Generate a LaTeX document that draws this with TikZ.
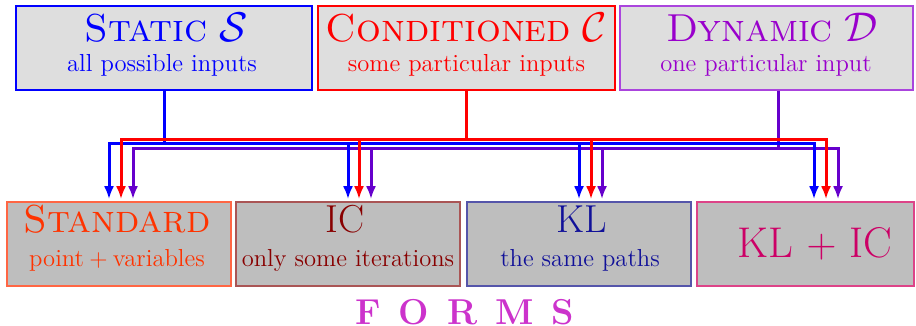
\documentclass[tikz,border=0pt]{standalone}
\usetikzlibrary{arrows.meta}
\definecolor{staticC}{HTML}{0000FF}
\definecolor{condC}{HTML}{FF0000}
\definecolor{dynC}{HTML}{9900CC}
\definecolor{dynB}{HTML}{AA44DD}
\definecolor{dynW}{HTML}{6600CC}
\definecolor{stdC}{HTML}{FF3300}
\definecolor{stdB}{HTML}{FF6644}
\definecolor{icC}{HTML}{880000}
\definecolor{icB}{HTML}{AA5555}
\definecolor{klC}{HTML}{111199}
\definecolor{klB}{HTML}{5555AA}
\definecolor{kicC}{HTML}{CC0066}
\definecolor{kicB}{HTML}{DD4488}
\definecolor{topfill}{HTML}{DEDEDE}
\definecolor{botfill}{HTML}{BEBEBE}
\definecolor{formsC}{HTML}{CC33CC}
\tikzset{
  topbox/.style={rectangle, draw, line width=0.8pt, fill=topfill, inner sep=0pt,
    minimum height=42pt},
  botbox/.style={rectangle, draw, line width=0.8pt, fill=botfill, inner sep=0pt,
    minimum height=42pt, minimum width=112pt},
  title/.style={anchor=base, inner sep=0pt, font=\fontsize{19.5}{23}\selectfont},
  sub/.style={anchor=base, inner sep=0pt, font=\fontsize{12.3}{15}\selectfont},
  wire/.style={line width=1.5pt, shorten >=1pt},
  tip/.style={-{Latex[length=6.5pt,width=5pt]}},
  tips/.style={{Latex[length=6.5pt,width=5pt]}-{Latex[length=6.5pt,width=5pt]}, shorten <=1pt},
}
\begin{document}
\begin{tikzpicture}[x=0.5pt,y=-0.5pt]
\useasboundingbox (0,0) rectangle (916,326);

% three kinds of inputs
\node[topbox, draw=staticC, minimum width=148pt] (S) at (164,48) {};
\node[topbox, draw=condC, minimum width=148.5pt] (C) at (466.5,48) {};
\node[topbox, draw=dynB, minimum width=146.5pt] (D) at (766.5,48) {};
\node[title, text=staticC] (St) at (166,42) {\textsc{Static} $\mathcal{S}$};
\node[sub, text=staticC] (Ss) at (162,72) {all possible inputs};
\node[title, text=condC] (Ct) at (466.5,42) {\textsc{Conditioned} $\mathcal{C}$};
\node[sub, text=condC] (Cs) at (466.5,72) {some particular inputs};
\node[title, text=dynC] (Dt) at (772,42) {\textsc{Dynamic} $\mathcal{D}$};
\node[sub, text=dynC] (Ds) at (766,72) {one particular input};

% four forms
\node[botbox, draw=stdB] (Std) at (119,244) {};
\node[botbox, draw=icB] (IC) at (348,244) {};
\node[botbox, draw=klB] (KL) at (579,244) {};
\node[botbox, draw=kicB, minimum width=108.5pt] (KIC) at (805.5,244) {};
\node[title, text=stdC] (Stdt) at (117,232) {\textsc{Standard}};
\node[sub, text=stdC] (Stds) at (117,266) {point${}+{}$variables};
\node[title, text=icC] (ICt) at (345,232) {IC};
\node[sub, text=icC] (ICs) at (348,266) {only some iterations};
\node[title, text=klC] (KLt) at (582,232) {KL};
\node[sub, text=klC] (KLs) at (580,266) {the same paths};
\node[title, text=kicC, font=\fontsize{21.5}{25}\selectfont] (KICt) at (815,257) {KL $+$ IC};

\node[anchor=base, inner sep=0pt, text=formsC, font=\fontsize{18}{22}\bfseries] (F) at (465,324)
  {F\hspace{0.5em}O\hspace{0.5em}R\hspace{0.5em}M\hspace{0.5em}S};

% bus coordinates
\coordinate (pL) at (133,149); \coordinate (pR) at (838,149);
\coordinate (p2) at (371,149); \coordinate (p3) at (602,149);
\coordinate (bL) at (109,144); \coordinate (bR) at (814,144);
\coordinate (b2) at (348,144); \coordinate (b3) at (579,144);
\coordinate (rL) at (121,140); \coordinate (rR) at (826,140);
\coordinate (r2) at (359,140); \coordinate (r3) at (591,140);

% dynamic wires
\draw[wire, dynW, tips] (Std.north -| pL) -- (pL) -- (pR) -- (KIC.north -| pR);
\draw[wire, dynW, tip] (p2) -- (IC.north -| p2);
\draw[wire, dynW, tip] (p3) -- (KL.north -| p3);
\draw[wire, dynW, shorten >=0pt] ([xshift=5.75pt]D.south) -- ([xshift=5.75pt]D.south |- pL);

% static wires
\draw[wire, staticC, shorten >=0pt] (S.south) -- (S.south |- bL);
\draw[wire, staticC, tips] (Std.north -| bL) -- (bL) -- (bR) -- (KIC.north -| bR);
\draw[wire, staticC, tip] (b2) -- (IC.north -| b2);
\draw[wire, staticC, tip] (b3) -- (KL.north -| b3);

% conditioned wires
\draw[wire, condC, shorten >=0pt] (C.south) -- (C.south |- rL);
\draw[wire, condC, tips] (Std.north -| rL) -- (rL) -- (rR) -- (KIC.north -| rR);
\draw[wire, condC, tip] (r2) -- (IC.north -| r2);
\draw[wire, condC, tip] (r3) -- (KL.north -| r3);
\end{tikzpicture}
\end{document}
